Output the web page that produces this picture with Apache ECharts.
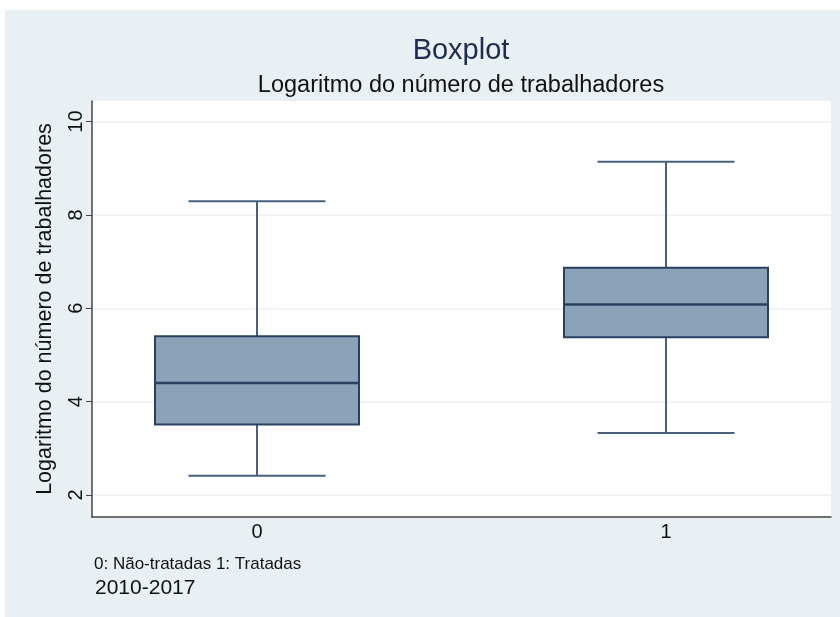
<!DOCTYPE html>
<html>
<head>
<meta charset="utf-8">
<script src="https://cdn.jsdelivr.net/npm/echarts@6/dist/echarts.min.js"></script>
<style>
  html, body { margin: 0; padding: 0; background: #ffffff; }
  #c { position: absolute; left: 5px; top: 10px; width: 835px; height: 607px; }
</style>
</head>
<body>
<div id="c"></div>
<script>
// ---- data ----
const categories = ['0', '1'];
const groupPos = [0, 1];
const whiskerLow = [2.41, 3.33];
const quartile1 = [3.51, 5.38];
const medians = [4.40, 6.08];
const quartile3 = [5.40, 6.87];
const whiskerHigh = [8.29, 9.14];
const yTicks = [2, 4, 6, 8, 10];

const titleText = 'Boxplot';
const subtitleText = 'Logaritmo do número de trabalhadores';
const yTitle = 'Logaritmo do número de trabalhadores';
const noteText = '0: Não-tratadas 1: Tratadas';
const captionText = '2010-2017';

// ---- style ----
const FONT = '"Liberation Sans", Arial, Helvetica, sans-serif';
const BOX_HALF = 0.2494;
const CAP_HALF = 0.1675;
const BOX_FILL = '#8CA2B8';
const BOX_STROKE = '#2A4060';
const WHISKER = '#46607E';

const seriesData = groupPos.map((g, i) => [g, whiskerLow[i], quartile1[i], medians[i], quartile3[i], whiskerHigh[i]]);

const chart = echarts.init(document.getElementById('c'), null, { renderer: 'canvas' });

chart.setOption({
  backgroundColor: '#E9F0F3',
  animation: false,
  grid: {
    left: 87, top: 91, right: 9, bottom: 100,
    show: true, backgroundColor: '#ffffff', borderWidth: 0
  },
  graphic: [
    { type: 'text', x: 456, y: 41, style: { text: titleText, font: '29px ' + FONT, fill: '#1E2C50', align: 'center', verticalAlign: 'middle' } },
    { type: 'text', x: 456, y: 76, style: { text: subtitleText, font: '23.5px ' + FONT, fill: '#111111', align: 'center', verticalAlign: 'middle' } },
    { type: 'text', x: 89, y: 554, style: { text: noteText, font: '17px ' + FONT, fill: '#111111', align: 'left', verticalAlign: 'middle' } },
    { type: 'text', x: 90, y: 578, style: { text: captionText, font: '21px ' + FONT, fill: '#111111', align: 'left', verticalAlign: 'middle' } }
  ],
  xAxis: {
    type: 'value',
    min: -0.4034,
    max: 1.4034,
    axisLine: { show: true, onZero: false, lineStyle: { color: '#444444', width: 1.5 } },
    axisTick: { show: false },
    splitLine: { show: false },
    axisLabel: {
      customValues: groupPos,
      formatter: v => categories[Math.round(v)],
      fontFamily: FONT, fontSize: 20, color: '#111111', margin: 5
    }
  },
  yAxis: {
    type: 'value',
    min: 1.528,
    max: 10.44,
    name: yTitle,
    nameLocation: 'middle',
    nameRotate: 90,
    nameGap: 36,
    nameTextStyle: { fontFamily: FONT, fontSize: 21.5, color: '#111111' },
    axisLine: { show: true, onZero: false, lineStyle: { color: '#444444', width: 1.5 } },
    axisTick: { show: true, length: 6, customValues: yTicks, lineStyle: { color: '#444444', width: 1 } },
    axisLabel: {
      customValues: yTicks,
      rotate: 90,
      fontFamily: FONT, fontSize: 20, color: '#111111', margin: 6
    },
    splitLine: { show: true, lineStyle: { color: '#EBF0F3', width: 1.5 } }
  },
  series: [{
    type: 'custom',
    data: seriesData,
    encode: { x: 0, y: [1, 2, 3, 4, 5] },
    renderItem: function (params, api) {
      const x = api.value(0);
      const lo = api.value(1), q1 = api.value(2), med = api.value(3), q3 = api.value(4), hi = api.value(5);
      const pLo = api.coord([x, lo]);
      const pHi = api.coord([x, hi]);
      const pQ1 = api.coord([x, q1]);
      const pQ3 = api.coord([x, q3]);
      const bl = api.coord([x - BOX_HALF, q1]);
      const tr = api.coord([x + BOX_HALF, q3]);
      const cl = api.coord([x - CAP_HALF, lo]);
      const cr = api.coord([x + CAP_HALF, lo]);
      const chl = api.coord([x - CAP_HALF, hi]);
      const chr = api.coord([x + CAP_HALF, hi]);
      const ml = api.coord([x - BOX_HALF, med]);
      const mr = api.coord([x + BOX_HALF, med]);
      const wStyle = { stroke: WHISKER, lineWidth: 2 };
      return {
        type: 'group',
        children: [
          { type: 'line', shape: { x1: pLo[0], y1: pLo[1], x2: pQ1[0], y2: pQ1[1] }, style: wStyle },
          { type: 'line', shape: { x1: pQ3[0], y1: pQ3[1], x2: pHi[0], y2: pHi[1] }, style: wStyle },
          { type: 'line', shape: { x1: cl[0], y1: cl[1], x2: cr[0], y2: cr[1] }, style: wStyle },
          { type: 'line', shape: { x1: chl[0], y1: chl[1], x2: chr[0], y2: chr[1] }, style: wStyle },
          { type: 'rect', shape: { x: bl[0], y: tr[1], width: tr[0] - bl[0], height: bl[1] - tr[1] },
            style: { fill: BOX_FILL, stroke: BOX_STROKE, lineWidth: 2 } },
          { type: 'line', shape: { x1: ml[0], y1: ml[1], x2: mr[0], y2: mr[1] }, style: { stroke: BOX_STROKE, lineWidth: 2.5 } }
        ]
      };
    }
  }]
});
</script>
</body>
</html>
